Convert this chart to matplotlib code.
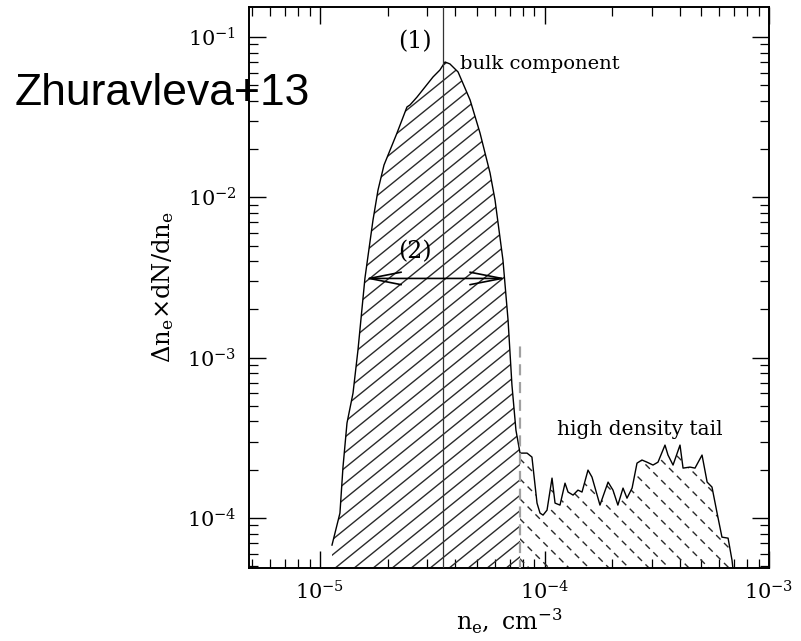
import numpy as np
import matplotlib
matplotlib.use("Agg")
import matplotlib.pyplot as plt
from matplotlib.ticker import NullFormatter

plt.rcParams['font.family'] = 'DejaVu Serif'
plt.rcParams['mathtext.fontset'] = 'dejavuserif'

# electron density [cm^-3] and dN/dn per bin
ne = [1.131e-5, 1.166e-5, 1.227e-5, 1.266e-5, 1.319e-5, 1.403e-5, 1.476e-5,
      1.586e-5, 1.722e-5, 1.813e-5, 1.928e-5, 2.203e-5, 2.44e-5, 2.518e-5,
      2.705e-5, 3.187e-5, 3.42e-5, 3.605e-5, 3.79e-5, 4.12e-5, 4.66e-5,
      5.16e-5, 5.72e-5, 6.02e-5, 6.53e-5, 6.88e-5, 7.16e-5, 7.46e-5, 7.78e-5,
      7.95e-5, 8.36e-5, 8.79e-5, 9.26e-5, 9.55e-5, 9.85e-5, 1.026e-4, 1.080e-4,
      1.114e-4, 1.172e-4, 1.234e-4, 1.273e-4, 1.34e-4, 1.409e-4, 1.469e-4,
      1.562e-4, 1.627e-4, 1.766e-4, 1.919e-4, 2.018e-4, 2.122e-4, 2.237e-4,
      2.33e-4, 2.455e-4, 2.582e-4, 2.716e-4, 2.861e-4, 3.042e-4, 3.202e-4,
      3.44e-4, 3.548e-4, 3.736e-4, 4.013e-4, 4.14e-4, 4.446e-4, 4.68e-4,
      5.03e-4, 5.30e-4, 5.57e-4, 5.87e-4, 6.17e-4, 6.57e-4, 6.84e-4, 6.92e-4]
dist = [6.78e-5, 8.05e-5, 1.073e-4, 2.08e-4, 3.91e-4, 6.01e-4, 1.114e-3,
        3.14e-3, 7.21e-3, 1.11e-2, 1.59e-2, 2.518e-2, 3.66e-2, 3.77e-2,
        4.22e-2, 5.63e-2, 6.22e-2, 6.98e-2, 6.79e-2, 6.05e-2, 4.05e-2,
        2.52e-2, 1.418e-2, 9.62e-3, 4.06e-3, 1.717e-3, 6.75e-4, 3.53e-4, 2.54e-4,
        2.54e-4, 2.54e-4, 2.40e-4, 1.239e-4, 1.073e-4, 1.043e-4, 1.12e-4, 1.774e-4,
        1.239e-4, 1.204e-4, 1.65e-4, 1.452e-4, 1.39e-4, 1.493e-4, 1.452e-4,
        1.99e-4, 1.80e-4, 1.204e-4, 1.675e-4, 1.493e-4, 1.204e-4, 1.537e-4,
        1.33e-4, 1.537e-4, 2.20e-4, 2.30e-4, 2.23e-4, 2.14e-4, 2.23e-4,
        2.85e-4, 2.47e-4, 2.14e-4, 2.85e-4, 2.048e-4, 2.078e-4, 2.048e-4,
        2.47e-4, 1.675e-4, 1.56e-4, 1.073e-4, 7.60e-5, 7.49e-5, 5.46e-5, 4.73e-5]

ne_peak = 3.54e-5        # (1) most probable density
ne_cut = 7.78e-5         # bulk / tail boundary
cut_top = 1.23e-3
width_lo, width_hi, width_level = 1.586e-5, 6.75e-5, 3.12e-3   # (2)

ne = np.array(ne)
dist = np.array(dist)

fig = plt.figure(figsize=(8.01, 6.41), dpi=100)
ax = fig.add_axes([0.3109, 0.1139, 0.6492, 0.8752])
ax.set_xscale('log')
ax.set_yscale('log')
ax.set_xlim(4.83e-6, 1e-3)
ax.set_ylim(4.88e-5, 0.1538)

floor = 1e-6
bulk = ne <= ne_cut
tail = ne >= ne_cut
bx = np.concatenate([ne[bulk], [ne_cut, ne[0]]])
by = np.concatenate([dist[bulk], [floor, floor]])
tx = np.concatenate([ne[tail], [ne[-1], ne_cut]])
ty = np.concatenate([dist[tail], [floor, floor]])
bulk_poly = ax.fill(bx, by, facecolor='none', edgecolor='none')[0]
tail_poly = ax.fill(tx, ty, facecolor='none', edgecolor='none')[0]

# hatching, done by hand so the tail can be dashed
W, H = 520.0, 561.0
t1 = np.tan(np.radians(39))
for c in np.arange(-H / t1, W + 20, 19):
    xs = np.array([-20, W + 20])
    ys = t1 * (xs - c)
    ln, = ax.plot(xs / W, ys / H, transform=ax.transAxes, color='#2a2a2a', lw=1.0)
    ln.set_clip_path(bulk_poly)
for c in np.arange(0, W + H + 20, 20):
    xs = np.array([-20, W + 20])
    ys = -(xs - c)
    ln, = ax.plot(xs / W, ys / H, transform=ax.transAxes, color='#2a2a2a', lw=1.0,
                  dashes=(4.5, 3.5))
    ln.set_clip_path(tail_poly)

ax.plot(ne, dist, color='black', lw=1.0, zorder=3)
ax.axvline(ne_peak, color='#333333', lw=0.9, zorder=3)
ax.plot([ne_cut, ne_cut], [floor, cut_top], color='#a0a0a0', lw=1.6,
        dashes=(5, 3), zorder=4)

ax.annotate('', xy=(width_lo, width_level), xytext=(width_hi, width_level),
            arrowprops=dict(arrowstyle='<->, head_length=2.3, head_width=0.45',
                            color='black', lw=1.2, mutation_scale=10,
                            shrinkA=0, shrinkB=0), zorder=5)

ax.text(2.65e-5, 0.093, '(1)', fontsize=17, ha='center', va='center')
ax.text(2.65e-5, 4.56e-3, '(2)', fontsize=17, ha='center', va='center')
ax.text(4.21e-5, 0.063, 'bulk component', fontsize=14, ha='left', va='baseline')
ax.text(1.137e-4, 3.29e-4, 'high density tail', fontsize=14.5, ha='left', va='baseline')

ax.set_xlabel(r'$\mathrm{n_e,\ cm^{-3}}$', fontsize=17, labelpad=2)
ax.set_ylabel(r'$\Delta\mathrm{n_e{\times}dN/dn_e}$', fontsize=17.5, labelpad=8)

ax.tick_params(which='both', direction='in', top=True, right=True, labelsize=15)
ax.tick_params(which='major', length=12, width=1.0, pad=9)
ax.tick_params(which='minor', length=6.5, width=0.9)
ax.xaxis.set_minor_formatter(NullFormatter())
ax.yaxis.set_minor_formatter(NullFormatter())
for s in ax.spines.values():
    s.set_linewidth(1.4)

fig.text(15 / 801, 1 - 105 / 641, 'Zhuravleva+13', fontsize=32,
         family='Liberation Sans', ha='left', va='baseline', zorder=10)

fig.savefig('out.png', dpi=100)
